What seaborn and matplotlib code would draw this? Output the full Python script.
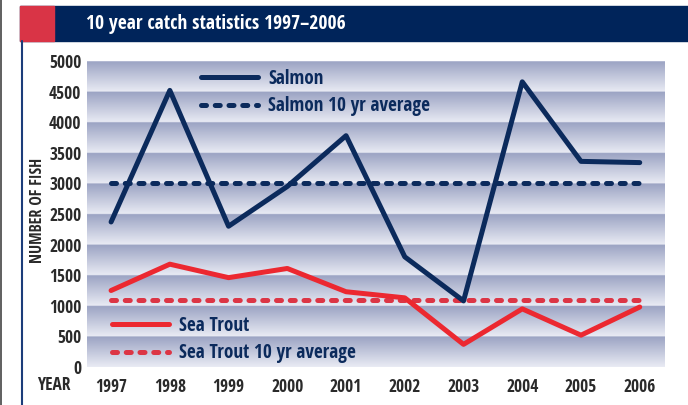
import numpy as np
import pandas as pd
import seaborn as sns
import matplotlib.pyplot as plt
from matplotlib import font_manager
from matplotlib.font_manager import FontProperties
from matplotlib.colors import LinearSegmentedColormap
from matplotlib.patches import Rectangle
from matplotlib.lines import Line2D

# data
years = [1997, 1998, 1999, 2000, 2001, 2002, 2003, 2004, 2005, 2006]
salmon = [2370, 4520, 2300, 2950, 3780, 1800, 1080, 4660, 3360, 3340]
sea_trout = [1250, 1680, 1460, 1610, 1230, 1130, 370, 950, 520, 980]
salmon_avg = 3000
sea_trout_avg = 1100
y_ticks = [0, 500, 1000, 1500, 2000, 2500, 3000, 3500, 4000, 4500, 5000]

navy = '#0b2a5c'
red = '#ec2830'
red_avg = '#dc3545'
txt = '#2a2a2a'

sns.set_theme(style='white')


def weight_num(w):
    if isinstance(w, (int, float)):
        return w
    return {'bold': 700, 'semibold': 600, 'demibold': 600, 'heavy': 800,
            'extra bold': 800, 'black': 900}.get(str(w).lower(), 400)


# look for a condensed bold face, the reference uses a narrow font
cands = []
for f in font_manager.fontManager.ttflist:
    tag = (f.name + ' ' + f.fname).lower()
    narrow = ('condensed' in tag or 'narrow' in tag or
              str(f.stretch).lower() in ('condensed', 'semi-condensed', 'extra-condensed'))
    if narrow and 'extra' not in tag and 'semicondensed' not in tag.replace('-', '') \
            and 700 <= weight_num(f.weight) <= 750 and 'italic' not in tag and 'oblique' not in tag:
        cands.append(f)


def rank(f):
    p = f.fname.lower()
    for i, key in enumerate(['notosans-condensedbold', 'notosans', 'opensans', 'roboto',
                             'liberation', 'dejavu']):
        if key in p.replace('_', '').replace(' ', ''):
            return (i, p)
    return (9, p)


cands.sort(key=rank)
fpath = cands[0].fname if cands else None
scale = 1.0 if (fpath and 'dejavu' not in fpath.lower()) else 0.88


def fp(size):
    if fpath:
        return FontProperties(fname=fpath, size=size * scale)
    return FontProperties(family='DejaVu Sans', weight='bold', size=size * 0.8)


df = pd.DataFrame({'year': years, 'Salmon': salmon, 'Sea Trout': sea_trout})

fig = plt.figure(figsize=(6.88, 4.05), dpi=100)
ax = fig.add_axes([87 / 688, 38 / 405, 578 / 688, 306 / 405])

xmin, xmax = 1996.59, 2006.43
ax.set_xlim(xmin, xmax)
ax.set_ylim(0, 5000)

# banded gradient background, dark at top of each 500 band
grid = np.linspace(5000, 0, 1000)
frac = (grid % 500) / 500.0
bg = np.tile(frac[:, None], (1, 2))
cmap = LinearSegmentedColormap.from_list('band', ['#e9ebf4', '#9ba3c3'])
ax.imshow(bg, extent=[xmin, xmax, 0, 5000], aspect='auto', cmap=cmap,
          vmin=0, vmax=1, zorder=0, interpolation='bilinear')

lw = 3.6
dash = (0, (1.0, 1.75))
sns.lineplot(data=df, x='year', y='Salmon', ax=ax, color=navy, lw=lw,
             label='Salmon', zorder=3)
ax.plot([years[0], years[-1]], [salmon_avg, salmon_avg], color=navy, lw=lw,
        ls=dash, dash_capstyle='round', label='Salmon 10 yr average', zorder=2)
sns.lineplot(data=df, x='year', y='Sea Trout', ax=ax, color=red, lw=lw,
             label='Sea Trout', zorder=3)
ax.plot([years[0], years[-1]], [sea_trout_avg, sea_trout_avg], color=red_avg, lw=lw,
        ls=dash, dash_capstyle='round', label='Sea Trout 10 yr average', zorder=2)

h, l = ax.get_legend_handles_labels()
leg_kw = dict(frameon=False, prop=fp(13.8), handlelength=3.0, handletextpad=0.5,
              labelspacing=0.4, borderpad=0, borderaxespad=0, labelcolor=navy)
leg1 = ax.legend(h[:2], l[:2], loc='upper left', bbox_to_anchor=(0.197, 0.975), **leg_kw)
ax.add_artist(leg1)
ax.legend(h[2:], l[2:], loc='upper left', bbox_to_anchor=(0.043, 0.168), **leg_kw)

ax.set_xticks(years)
ax.set_xticklabels([str(y) for y in years])
ax.set_yticks(y_ticks)
ax.set_yticklabels([str(v) for v in y_ticks])
ax.tick_params(axis='both', length=0, labelcolor=txt)
ax.tick_params(axis='x', pad=8)
ax.tick_params(axis='y', pad=4)
for lab in ax.get_xticklabels() + ax.get_yticklabels():
    lab.set_fontproperties(fp(12.5))
for s in ax.spines.values():
    s.set_visible(False)
ax.set_xlabel('')
ax.set_ylabel('')

fig.text(37 / 688, 1 - 385 / 405, 'YEAR', fontproperties=fp(12.5), color=txt,
         va='center', ha='left')
fig.text(38 / 688, 1 - 210 / 405, 'NUMBER OF FISH', fontproperties=fp(11.5), color=txt,
         rotation=90, va='center', ha='center')

# header banner and frame lines
fig.patches.append(Rectangle((20 / 688, 1 - 41 / 405), 668 / 688, 35 / 405,
                             transform=fig.transFigure, color='#00245a', zorder=-1))
fig.patches.append(Rectangle((20 / 688, 1 - 41 / 405), 34 / 688, 35 / 405,
                             transform=fig.transFigure, color='#d93446', zorder=-1))
fig.lines.append(Line2D([21.5 / 688, 21.5 / 688], [0, 1 - 41 / 405],
                        transform=fig.transFigure, color='#1c3d7a', lw=1.5))
fig.lines.append(Line2D([0.7 / 688, 0.7 / 688], [0, 1],
                        transform=fig.transFigure, color='#444444', lw=1.2))
fig.text(86 / 688, 1 - 24 / 405, '10 year catch statistics 1997\u20132006',
         fontproperties=fp(14), color='white', va='center', ha='left')

fig.savefig('out.png', dpi=100)
